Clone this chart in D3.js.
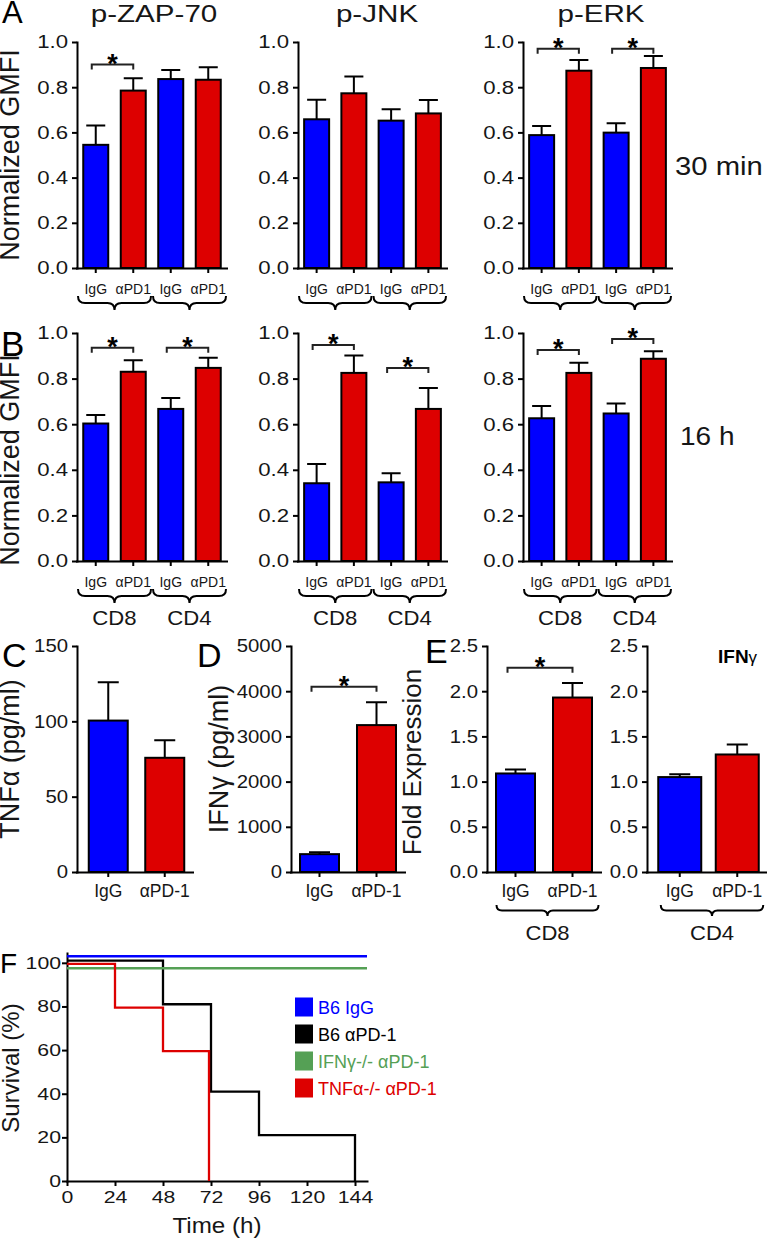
<!DOCTYPE html>
<meta charset="utf-8">
<script src="https://d3js.org/d3.v7.min.js"></script>
<style>
  body { margin: 0; background: #fff; }
</style>
<div id="fig"></div>
<script>

// ---------- data ----------
var pairLabels = ["IgG", "αPD1", "IgG", "αPD1"];   // IgG CD8, aPD1 CD8, IgG CD4, aPD1 CD4
var cellLabels = ["CD8", "CD4"];
var kinases = ["p-ZAP-70", "p-JNK", "p-ERK"];
var timeLabels = ["30 min", "16 h"];

// row A, 30 min: mean and SEM (normalized GMFI)
var zap30 = [0.545, 0.785, 0.836, 0.833], zap30Sem = [0.085, 0.055, 0.040, 0.055];
var jnk30 = [0.658, 0.773, 0.652, 0.684], jnk30Sem = [0.087, 0.074, 0.050, 0.059];
var erk30 = [0.588, 0.873, 0.599, 0.885], erk30Sem = [0.040, 0.047, 0.041, 0.053];
// row B, 16 h
var zap16 = [0.603, 0.830, 0.667, 0.847], zap16Sem = [0.037, 0.050, 0.048, 0.044];
var jnk16 = [0.341, 0.825, 0.345, 0.667], jnk16Sem = [0.084, 0.076, 0.040, 0.092];
var erk16 = [0.626, 0.825, 0.647, 0.887], erk16Sem = [0.054, 0.044, 0.044, 0.033];
// significance brackets: [bar, bar, bracket level]
var zap30Sig = [[0, 1, 0.90]];
var jnk30Sig = [];
var erk30Sig = [[0, 1, 0.97], [2, 3, 0.97]];
var zap16Sig = [[0, 1, 0.935], [2, 3, 0.935]];
var jnk16Sig = [[0, 1, 0.947], [2, 3, 0.846]];
var erk16Sig = [[0, 1, 0.925], [2, 3, 0.974]];

var treatLabels = ["IgG", "αPD-1"];
var tnfVals = [100.5, 75.8], tnfSem = [25.5, 11.6];
var ifnVals = [395, 3250], ifnSem = [40, 505];
var ifnSig = [[0, 1, 4100]];
var foldCD8 = [1.09, 1.93], foldCD8Sem = [0.045, 0.16];
var foldCD4 = [1.05, 1.30], foldCD4Sem = [0.03, 0.11];
var foldSig = [[0, 1, 2.26]];

// panel F survival curves [hour, %]
var survNames = ["B6 IgG", "B6 αPD-1", "IFNγ-/- αPD-1", "TNFα-/- αPD-1"];
var survColors = ["#0000ff", "#000000", "#55a055", "#dd0000"];
var survIgG = [[0, 103], [150, 103]];
var survB6 = [[0, 101], [48, 81], [72, 41], [96, 21], [144, 0]];
var survIfn = [[0, 97.5], [150, 97.5]];
var survTnf = [[0, 99.5], [24, 79.5], [48, 59.5], [71, 0]];
var survHours = [0, 24, 48, 72, 96, 120, 144];
var survTicks = [0, 20, 40, 60, 80, 100];

var BLUE = "#0000ff", RED = "#dd0000", INK = "#161616";
var FONT = "'Liberation Sans', Arial, Helvetica, sans-serif";

var svg = d3.select("#fig").append("svg")
  .attr("width", 770).attr("height", 1239)
  .style("font-family", FONT);

svg.append("rect").attr("width", 770).attr("height", 1239).attr("fill", "#fff");

// text helper, sx stretches horizontally like the source image
function label(x, y, str, size, opt) {
  opt = opt || {};
  var sx = opt.sx || 1;
  return svg.append("text")
    .attr("transform", "translate(" + x + "," + y + ") scale(" + sx + ",1)" + (opt.rotate ? " rotate(-90)" : ""))
    .attr("font-size", size)
    .attr("text-anchor", opt.anchor || "start")
    .attr("font-weight", opt.bold ? "bold" : null)
    .attr("fill", opt.fill || INK)
    .text(str);
}

function styleAxis(a, size, sx, left, off) {
  a.select(".domain").attr("stroke-width", 2).attr("stroke-linecap", "square");
  a.selectAll(".tick line").attr("stroke-width", 2);
  var t = a.selectAll(".tick text")
    .attr("font-size", size).attr("font-family", FONT).attr("fill", INK)
    .attr("transform", "scale(" + sx + ",1)");
  if (left) t.attr("x", -off / sx);
}

function brace(x0, x1, y0, h) {
  var xm = (x0 + x1) / 2, r = h / 2;
  var d = "M" + x0 + "," + y0 +
    "Q" + x0 + "," + (y0 + r) + " " + (x0 + r) + "," + (y0 + r) +
    "H" + (xm - r) +
    "Q" + xm + "," + (y0 + r) + " " + xm + "," + (y0 + h) +
    "Q" + xm + "," + (y0 + r) + " " + (xm + r) + "," + (y0 + r) +
    "H" + (x1 - r) +
    "Q" + x1 + "," + (y0 + r) + " " + x1 + "," + y0;
  svg.append("path").attr("d", d).attr("fill", "none")
    .attr("stroke", "#000").attr("stroke-width", 2);
}

function barPanel(o) {
  var g = svg.append("g");
  var x = d3.scaleBand().domain(d3.range(o.vals.length)).range(o.band);
  var y = d3.scaleLinear().domain([0, o.max]).range([o.yBot, o.yTop]);
  var bw = x.bandwidth();
  function cx(i) { return x(i) + bw / 2; }

  // error bars (upper half only)
  g.selectAll(".err").data(o.vals).enter().append("path")
    .attr("d", function(d, i) {
      var t = y(d + o.sem[i]);
      return "M" + cx(i) + "," + y(d) + "V" + t +
        "M" + (cx(i) - o.cap / 2) + "," + t + "H" + (cx(i) + o.cap / 2);
    })
    .attr("fill", "none").attr("stroke", "#000").attr("stroke-width", 2);

  g.selectAll(".bar").data(o.vals).enter().append("rect")
    .attr("x", function(d, i) { return cx(i) - o.barW / 2; })
    .attr("y", function(d) { return y(d); })
    .attr("width", o.barW)
    .attr("height", function(d) { return y(0) - y(d); })
    .attr("fill", function(d, i) { return i % 2 ? RED : BLUE; })
    .attr("stroke", "#000").attr("stroke-width", 2);

  // axes
  var ay = g.append("g").attr("transform", "translate(" + o.ax + ",0)")
    .call(d3.axisLeft(y).tickValues(o.ticks).tickFormat(o.fmt).tickSize(5).tickSizeOuter(0).tickPadding(4));
  styleAxis(ay, o.tickSize, o.tickSx, true, 9);

  var axb = g.append("g").attr("transform", "translate(0," + o.yBot + ")")
    .call(d3.axisBottom(x).tickFormat(function(i) { return o.labels[i]; })
      .tickSize(5).tickSizeOuter(0).tickPadding(o.xPad));
  styleAxis(axb, o.xSize, 1, false, 0);
  axb.select(".domain").attr("d", "M" + o.ax + ",0.5H" + o.ex);

  // significance brackets
  (o.sig || []).forEach(function(s) {
    var by = y(s[2]), x0 = cx(s[0]) - o.sigOff, x1 = cx(s[1]);
    g.append("path")
      .attr("d", "M" + x0 + "," + (by + 5) + "V" + by + "H" + x1 + "V" + (by + 5))
      .attr("fill", "none").attr("stroke", "#222").attr("stroke-width", 2);
    g.append("text").attr("x", (x0 + x1) / 2).attr("y", by + 8)
      .attr("text-anchor", "middle").attr("font-size", 27).attr("font-weight", "bold")
      .attr("fill", "#000").text("*");
  });
  return { x: x, y: y, cx: cx, bw: bw };
}

// ---------- rows A and B ----------
var colsAB = [
  { band: [77, 227], title: 154 },
  { band: [298, 447], title: 377 },
  { band: [523, 672], title: 601 }
];
var rowsAB = [
  { yTop: 42, yBot: 268, data: [[zap30, zap30Sem, zap30Sig], [jnk30, jnk30Sem, jnk30Sig], [erk30, erk30Sem, erk30Sig]], cells: false },
  { yTop: 333, yBot: 561, data: [[zap16, zap16Sem, zap16Sig], [jnk16, jnk16Sem, jnk16Sig], [erk16, erk16Sem, erk16Sig]], cells: true }
];

rowsAB.forEach(function(r) {
  colsAB.forEach(function(c, ci) {
    var p = barPanel({
      vals: r.data[ci][0], sem: r.data[ci][1], sig: r.data[ci][2],
      band: c.band, ax: c.band[0], ex: c.band[1], yTop: r.yTop, yBot: r.yBot,
      max: 1, ticks: [0, 0.2, 0.4, 0.6, 0.8, 1.0], fmt: d3.format(".1f"),
      labels: pairLabels, barW: 25, cap: 19, sigOff: 4,
      tickSize: 18.5, tickSx: 1.2, xSize: 14, xPad: 11
    });
    [[0, 1], [2, 3]].forEach(function(pr, k) {
      var x0 = p.x(pr[0]) + 1, x1 = p.x(pr[1]) + p.bw - 1;
      brace(x0, x1, r.yBot + 28, 14);
      if (r.cells) label((x0 + x1) / 2, r.yBot + 64, cellLabels[k], 20.5, { anchor: "middle", sx: 1.08 });
    });
  });
});

kinases.forEach(function(k, i) {
  label(colsAB[i].title, 22, k, 23.5, { anchor: "middle", sx: 1.26 });
});
label(675, 175, timeLabels[0], 25, { sx: 1.17 });
label(680, 445, timeLabels[1], 25, { sx: 1.12 });
label(19, 155, "Normalized GMFI", 27, { anchor: "middle", rotate: true });
label(19, 460, "Normalized GMFI", 27, { anchor: "middle", rotate: true });
label(2, 23, "A", 31, { fill: "#000" });
label(1, 356, "B", 35, { fill: "#000" });

// ---------- rows C, D, E ----------
var common = { yTop: 646, yBot: 872, labels: treatLabels, barW: 39, cap: 21, sigOff: 8,
  tickSize: 18.5, tickSx: 1.1, xSize: 17.5, xPad: 8 };

barPanel(Object.assign({}, common, {
  vals: tnfVals, sem: tnfSem, band: [80, 193], ax: 77, ex: 193,
  max: 150, ticks: [0, 50, 100, 150], fmt: d3.format("d")
}));
barPanel(Object.assign({}, common, {
  vals: ifnVals, sem: ifnSem, sig: ifnSig, band: [291, 405], ax: 291, ex: 405,
  max: 5000, ticks: [0, 1000, 2000, 3000, 4000, 5000], fmt: d3.format("d")
}));
var e1 = barPanel(Object.assign({}, common, {
  vals: foldCD8, sem: foldCD8Sem, sig: foldSig, band: [487, 601], ax: 487, ex: 601,
  max: 2.5, ticks: [0, 0.5, 1, 1.5, 2, 2.5], fmt: d3.format(".1f")
}));
var e2 = barPanel(Object.assign({}, common, {
  vals: foldCD4, sem: foldCD4Sem, band: [651, 766], ax: 647, ex: 766, barW: 43,
  max: 2.5, ticks: [0, 0.5, 1, 1.5, 2, 2.5], fmt: d3.format(".1f")
}));
[e1, e2].forEach(function(p, k) {
  var x0 = p.cx(0) - 19, x1 = p.cx(1) + 26;
  brace(x0, x1, 905, 11);
  label((x0 + x1) / 2, 940, cellLabels[k], 21, { anchor: "middle", sx: 1.05 });
});

label(19, 759, "TNFα (pg/ml)", 27, { anchor: "middle", rotate: true });
label(228, 759, "IFNγ (pg/ml)", 27, { anchor: "middle", rotate: true });
label(421, 762, "Fold Expression", 26, { anchor: "middle", rotate: true });
var ifnLab = label(718, 663, "IFN", 19, { bold: true, fill: "#000" });
ifnLab.append("tspan").attr("font-weight", "normal").attr("font-size", 17).text("γ");

label(2, 667, "C", 34, { fill: "#000" });
label(197, 667, "D", 34, { fill: "#000" });
label(425, 663, "E", 34, { fill: "#000" });

// ---------- panel F ----------
var fx = d3.scaleLinear().domain([0, 150]).range([67, 367]);
var fy = d3.scaleLinear().domain([0, 104.5]).range([1181, 953]);
var fg = svg.append("g");

var fAxY = fg.append("g").attr("transform", "translate(67,0)")
  .call(d3.axisLeft(fy).tickValues(survTicks).tickSize(5).tickSizeOuter(0).tickPadding(1));
styleAxis(fAxY, 17, 1.25, true, 6);
var fAxX = fg.append("g").attr("transform", "translate(0,1181)")
  .call(d3.axisBottom(fx).tickValues(survHours).tickSize(5).tickSizeOuter(0).tickPadding(5));
styleAxis(fAxX, 17, 1.25, false, 0);

var step = d3.line().x(function(d) { return fx(d[0]); }).y(function(d) { return fy(d[1]); })
  .curve(d3.curveStepAfter);
[survIgG, survB6, survIfn, survTnf].forEach(function(s, i) {
  fg.append("path").attr("d", step(s)).attr("fill", "none")
    .attr("stroke", survColors[i]).attr("stroke-width", 2.3);
});

survNames.forEach(function(n, i) {
  var cy = 1007 + i * 27;
  fg.append("rect").attr("x", 295).attr("y", cy - 9.5).attr("width", 18).attr("height", 19)
    .attr("fill", survColors[i]);
  label(318, cy + 6.5, n, 18, { fill: survColors[i] });
});

label(217, 1233, "Time (h)", 22, { anchor: "middle", sx: 1.1 });
label(19, 1068, "Survival (%)", 24, { anchor: "middle", rotate: true });
label(0, 973, "F", 28, { fill: "#000" });

</script>
